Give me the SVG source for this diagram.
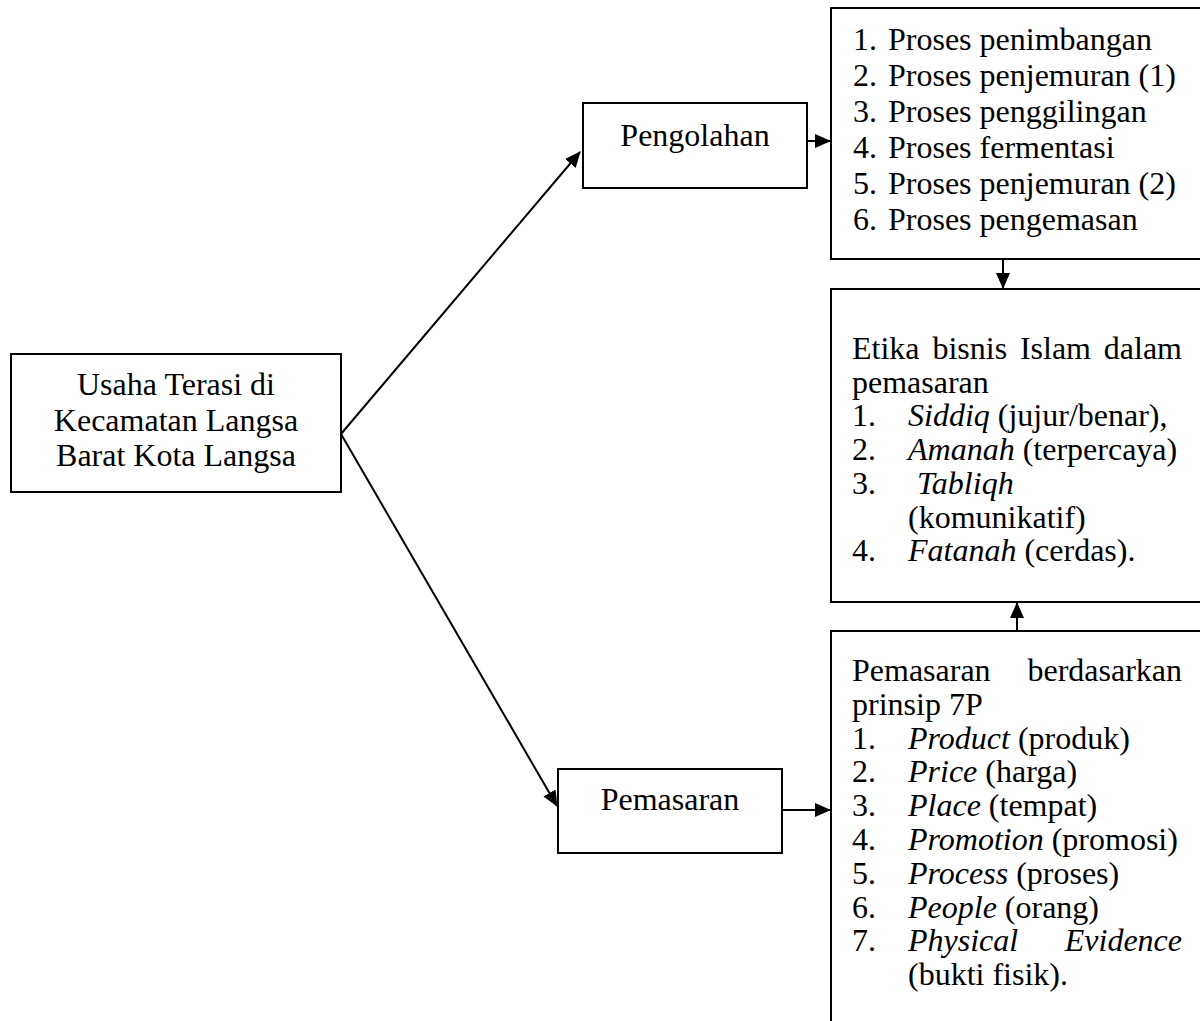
<svg xmlns="http://www.w3.org/2000/svg" width="1200" height="1021" viewBox="0 0 1200 1021">
<style>
.box{fill:#fff;stroke:#000;stroke-width:2}
.t{font-family:"Liberation Serif","Times New Roman",serif;font-size:32px;fill:#000}
.i{font-style:italic}
.c{stroke:#000;stroke-width:2;fill:none}
</style>
<defs>
<marker id="ah" markerUnits="userSpaceOnUse" markerWidth="16" markerHeight="14" refX="15" refY="7" orient="auto">
<path d="M0,0 L16,7 L0,14 z" fill="#000"/>
</marker>
</defs>
<rect width="1200" height="1021" fill="#fff"/>
<g id="connectors">
<line class="c" x1="341" y1="434" x2="580" y2="152" marker-end="url(#ah)"/>
<line class="c" x1="341" y1="434" x2="557" y2="806" marker-end="url(#ah)"/>
<line class="c" x1="807" y1="141" x2="830" y2="141" marker-end="url(#ah)"/>
<line class="c" x1="782" y1="810" x2="830" y2="810" marker-end="url(#ah)"/>
<line class="c" x1="1003" y1="259" x2="1003" y2="288" marker-end="url(#ah)"/>
<line class="c" x1="1017" y1="631" x2="1017" y2="603" marker-end="url(#ah)"/>
</g>
<g id="usaha">
<rect class="box" x="11" y="354" width="330" height="138"/>
<text class="t" text-anchor="middle" x="176" y="395">Usaha Terasi di</text>
<text class="t" text-anchor="middle" x="176" y="431">Kecamatan Langsa</text>
<text class="t" text-anchor="middle" x="176" y="466">Barat Kota Langsa</text>
</g>
<g id="pengolahan">
<rect class="box" x="583" y="103" width="224" height="85"/>
<text class="t" text-anchor="middle" x="695" y="146">Pengolahan</text>
</g>
<g id="pemasaran">
<rect class="box" x="558" y="769" width="224" height="84"/>
<text class="t" text-anchor="middle" x="670" y="810">Pemasaran</text>
</g>
<g id="proses">
<rect class="box" x="831" y="8" width="372" height="251"/>
<text class="t" x="853" y="50">1.</text><text class="t" x="888" y="50">Proses penimbangan</text>
<text class="t" x="853" y="86">2.</text><text class="t" x="888" y="86">Proses penjemuran (1)</text>
<text class="t" x="853" y="122">3.</text><text class="t" x="888" y="122">Proses penggilingan</text>
<text class="t" x="853" y="158">4.</text><text class="t" x="888" y="158">Proses fermentasi</text>
<text class="t" x="853" y="194">5.</text><text class="t" x="888" y="194">Proses penjemuran (2)</text>
<text class="t" x="853" y="230">6.</text><text class="t" x="888" y="230">Proses pengemasan</text>
</g>
<g id="etika">
<rect class="box" x="831" y="289" width="372" height="313"/>
<text class="t" y="359"><tspan x="852">Etika</tspan><tspan x="932.4">bisnis</tspan><tspan x="1019.9">Islam</tspan></text><text class="t" x="1182" y="359" text-anchor="end">dalam</text>
<text class="t" x="852" y="392.7">pemasaran</text>
<text class="t" x="852" y="426.4">1.</text><text class="t" x="908" y="426.4"><tspan class="i">Siddiq</tspan> (jujur/benar),</text>
<text class="t" x="852" y="460.1">2.</text><text class="t" x="908" y="460.1"><tspan class="i">Amanah</tspan> (terpercaya)</text>
<text class="t" x="852" y="493.8">3.</text><text class="t i" x="917" y="493.8">Tabliqh</text>
<text class="t" x="908" y="527.5">(komunikatif)</text>
<text class="t" x="852" y="561.2">4.</text><text class="t" x="908" y="561.2"><tspan class="i">Fatanah</tspan> (cerdas).</text>
</g>
<g id="tujuhp">
<rect class="box" x="831" y="631" width="372" height="400"/>
<text class="t" x="852" y="681">Pemasaran</text><text class="t" x="1182" y="681" text-anchor="end">berdasarkan</text>
<text class="t" x="852" y="714.8">prinsip 7P</text>
<text class="t" x="852" y="748.6">1.</text><text class="t" x="908" y="748.6"><tspan class="i">Product</tspan> (produk)</text>
<text class="t" x="852" y="782.4">2.</text><text class="t" x="908" y="782.4"><tspan class="i">Price</tspan> (harga)</text>
<text class="t" x="852" y="816.2">3.</text><text class="t" x="908" y="816.2"><tspan class="i">Place</tspan> (tempat)</text>
<text class="t" x="852" y="850">4.</text><text class="t" x="908" y="850"><tspan class="i">Promotion</tspan> (promosi)</text>
<text class="t" x="852" y="883.8">5.</text><text class="t" x="908" y="883.8"><tspan class="i">Process</tspan> (proses)</text>
<text class="t" x="852" y="917.6">6.</text><text class="t" x="908" y="917.6"><tspan class="i">People</tspan> (orang)</text>
<text class="t" x="852" y="951.4">7.</text><text class="t i" x="908" y="951.4">Physical</text><text class="t i" x="1182" y="951.4" text-anchor="end">Evidence</text>
<text class="t" x="908" y="985.2">(bukti fisik).</text>
</g>
</svg>
